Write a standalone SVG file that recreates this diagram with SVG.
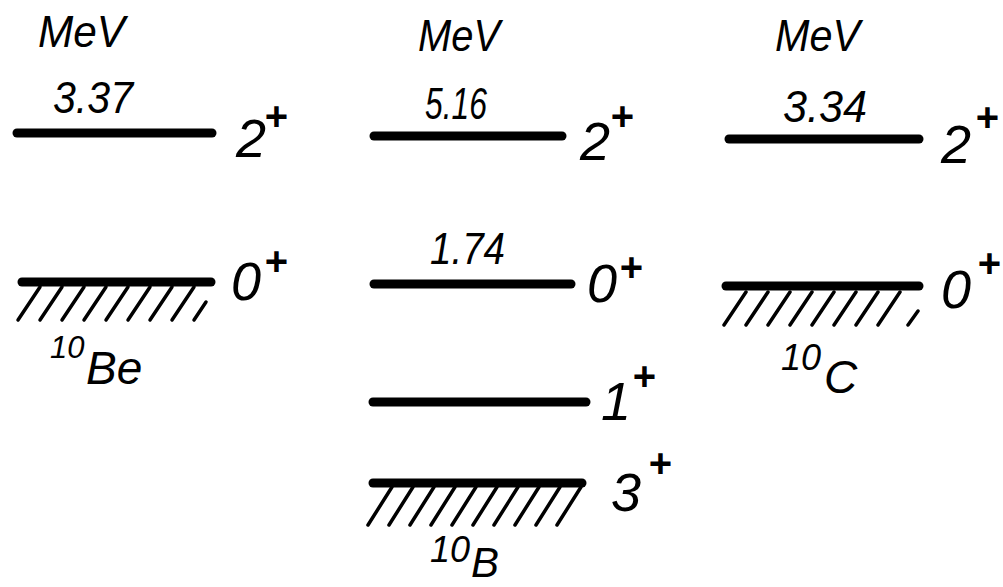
<svg xmlns="http://www.w3.org/2000/svg" width="1003" height="587" viewBox="0 0 1003 587">
<style>
text{font-family:"Liberation Sans","DejaVu Sans",sans-serif;font-style:italic;fill:#000}
.unit{font-size:44px}
.val{font-size:44px}
.spin{font-size:54px}
.sup{font-size:40px;font-weight:bold}
.iso{font-size:31px}
.iso2{font-size:36px}
.el{font-size:46px}
.lvl{stroke:#000;stroke-width:9;stroke-linecap:round;fill:none}
.hatch{stroke:#000;stroke-width:3.5;stroke-linecap:round;fill:none}
</style>
<rect width="1003" height="587" fill="#fff"/>
<g id="be10">
  <text class="unit" x="38" y="47" textLength="87" lengthAdjust="spacingAndGlyphs">MeV</text>
  <g id="be-2plus">
    <text class="val" x="53" y="113" textLength="80" lengthAdjust="spacingAndGlyphs">3.37</text>
    <line class="lvl" x1="17" y1="133" x2="212" y2="133"/>
    <text class="spin" x="236" y="157">2</text><text class="sup" x="264" y="130">+</text>
  </g>
  <g id="be-0plus">
    <line class="lvl" x1="22" y1="282" x2="211" y2="282"/>
    <path class="hatch" d="M18 320l22 -33M40 320l22 -33M62 320l22 -33M84 320l22 -33M106 320l22 -33M128 320l22 -33M150 320l22 -33M172 320l22 -33M194 320l12 -18"/>
    <text class="spin" x="231" y="300">0</text><text class="sup" x="264" y="275">+</text>
  </g>
  <text class="iso" x="50" y="358">10</text><text class="el" x="86" y="384">Be</text>
</g>
<g id="b10">
  <text class="unit" x="418" y="51" textLength="82" lengthAdjust="spacingAndGlyphs">MeV</text>
  <g id="b-2plus">
    <text class="val" x="425" y="119" textLength="62" lengthAdjust="spacingAndGlyphs">5.16</text>
    <line class="lvl" x1="374" y1="136" x2="562" y2="136"/>
    <text class="spin" x="580" y="160">2</text><text class="sup" x="610" y="130">+</text>
  </g>
  <g id="b-0plus">
    <text class="val" x="430" y="264" textLength="75" lengthAdjust="spacingAndGlyphs">1.74</text>
    <line class="lvl" x1="374" y1="284" x2="571" y2="284"/>
    <text class="spin" x="587" y="302">0</text><text class="sup" x="619" y="281">+</text>
  </g>
  <g id="b-1plus">
    <line class="lvl" x1="373" y1="402" x2="586" y2="402"/>
    <text class="spin" x="601" y="420">1</text><text class="sup" x="632" y="390">+</text>
  </g>
  <g id="b-3plus">
    <line class="lvl" x1="373" y1="483" x2="582" y2="483"/>
    <path class="hatch" d="M368 525l24 -38M389 525l24 -38M410 525l24 -38M431 525l24 -38M452 525l24 -38M473 525l24 -38M494 525l24 -38M515 525l24 -38M536 525l24 -38M557 525l24 -38"/>
    <text class="spin" x="611" y="511">3</text><text class="sup" x="648" y="477">+</text>
  </g>
  <text class="iso2" x="430" y="562">10</text><text class="el" x="471" y="577" style="font-size:42px">B</text>
</g>
<g id="c10">
  <text class="unit" x="775" y="51" textLength="85" lengthAdjust="spacingAndGlyphs">MeV</text>
  <g id="c-2plus">
    <text class="val" x="783" y="122" textLength="84" lengthAdjust="spacingAndGlyphs">3.34</text>
    <line class="lvl" x1="729" y1="139" x2="919" y2="139"/>
    <text class="spin" x="941" y="163">2</text><text class="sup" x="975" y="131">+</text>
  </g>
  <g id="c-0plus">
    <line class="lvl" x1="726" y1="286" x2="919" y2="286"/>
    <path class="hatch" d="M724 325l22 -33M746 325l22 -33M768 325l22 -33M790 325l22 -33M812 325l22 -33M834 325l22 -33M856 325l22 -33M878 325l22 -33M908 325l10 -14"/>
    <text class="spin" x="941" y="308">0</text><text class="sup" x="977" y="277">+</text>
  </g>
  <text class="iso2" x="781" y="370">10</text><text class="el" x="824" y="393">C</text>
</g>
</svg>
